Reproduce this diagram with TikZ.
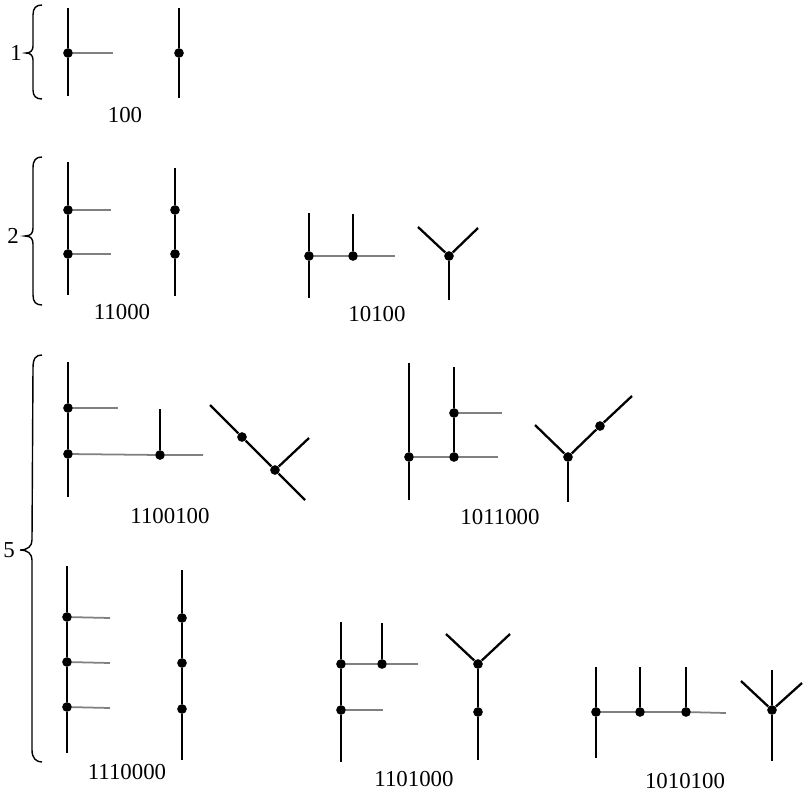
\documentclass[tikz,border=0pt]{standalone}
\usepackage{fontspec}
\setmainfont{Liberation Serif}
\tikzset{
  stem/.style={line width=1.3pt, black},
  leaf/.style={line width=1pt, black!50},
  vtx/.style={circle, fill=black, inner sep=0pt, minimum size=5.5pt},
  code/.style={font=\fontsize{13}{15}\selectfont, inner sep=1pt},
  grp/.style={line width=0.8pt},
}
\begin{document}
\begin{tikzpicture}[x=0.02cm, y=-0.02cm]
  \useasboundingbox (0,0) rectangle (804,795);

  % group sizes
  \draw[grp] (42,5) .. controls (36,5) and (33,8) .. (33,15) -- (33,46)
    .. controls (33,50) and (31,53) .. (26,53) .. controls (31,53) and (33,56) .. (33,60)
    -- (33,90) .. controls (33,96) and (36,99) .. (42,99);
  \node[code] (n1) at (16,53) {1};
  \draw[grp] (42,157) .. controls (36,157) and (33,160) .. (33,168) -- (33,228)
    .. controls (33,233) and (31,236) .. (25,236) .. controls (31,236) and (33,239) .. (33,244)
    -- (33,295) .. controls (33,302) and (36,305) .. (42,305);
  \node[code] (n2) at (13,236) {2};
  \draw[grp] (42,355) .. controls (36,355) and (33,358) .. (33,368) -- (32,540)
    .. controls (32,546) and (28,550) .. (20,550) .. controls (28,550) and (32,554) .. (32,560)
    -- (32,750) .. controls (32,758) and (36,762) .. (42,762);
  \node[code] (n5) at (9,550) {5};

  % 100
  \coordinate (p1t) at (68,8); \coordinate (p1b) at (68,96); \coordinate (p1e) at (113,53);
  \node[vtx] (p1) at (68,53) {};
  \draw[stem] (p1t) -- (p1) -- (p1b);
  \draw[leaf] (p1) -- (p1e);
  \coordinate (q1t) at (179,8); \coordinate (q1b) at (179,98);
  \node[vtx] (q1) at (179,53) {};
  \draw[stem] (q1t) -- (q1) -- (q1b);
  \node[code] (c100) at (125,115) {100};

  % 11000
  \coordinate (p2t) at (68,162); \coordinate (p2b) at (68,295);
  \node[vtx] (p2a) at (68,210) {};
  \node[vtx] (p2c) at (68,254) {};
  \coordinate (p2ae) at (111,210); \coordinate (p2ce) at (111,254);
  \draw[stem] (p2t) -- (p2a) -- (p2c) -- (p2b);
  \draw[leaf] (p2a) -- (p2ae);
  \draw[leaf] (p2c) -- (p2ce);
  \coordinate (q2t) at (175,168); \coordinate (q2b) at (175,296);
  \node[vtx] (q2a) at (175,210) {};
  \node[vtx] (q2c) at (175,254) {};
  \draw[stem] (q2t) -- (q2a) -- (q2c) -- (q2b);
  \node[code] (c11000) at (122,312) {11000};

  % 10100
  \coordinate (r2t) at (309,213); \coordinate (r2b) at (309,298);
  \coordinate (r2st) at (353,214); \coordinate (r2e) at (395,256);
  \node[vtx] (r2a) at (309,256) {};
  \node[vtx] (r2c) at (353,256) {};
  \draw[stem] (r2t) -- (r2a) -- (r2b);
  \draw[stem] (r2st) -- (r2c);
  \draw[leaf] (r2a) -- (r2c) -- (r2e);
  \coordinate (y2l) at (418,227); \coordinate (y2r) at (478,228); \coordinate (y2b) at (449,300);
  \node[vtx] (y2) at (449,256) {};
  \draw[stem] (y2l) -- (y2) -- (y2r);
  \draw[stem] (y2) -- (y2b);
  \node[code] (c10100) at (377,314) {10100};

  % 1100100
  \coordinate (p3t) at (68,362); \coordinate (p3b) at (68,497);
  \node[vtx] (p3a) at (68,408) {};
  \node[vtx] (p3c) at (68,454) {};
  \coordinate (p3ae) at (118,408); \coordinate (p3ce) at (203,455);
  \coordinate (p3st) at (160,409);
  \node[vtx] (p3d) at (160,455) {};
  \draw[stem] (p3t) -- (p3a) -- (p3c) -- (p3b);
  \draw[stem] (p3st) -- (p3d);
  \draw[leaf] (p3a) -- (p3ae);
  \draw[leaf] (p3c) -- (p3d) -- (p3ce);
  \coordinate (d3t) at (210,405); \coordinate (d3b) at (305,500); \coordinate (d3r) at (309,438);
  \node[vtx] (d3a) at (242,437) {};
  \node[vtx] (d3c) at (275,470) {};
  \draw[stem] (d3t) -- (d3a) -- (d3c) -- (d3b);
  \draw[stem] (d3c) -- (d3r);
  \node[code] (c1100100) at (170,516) {1100100};

  % 1011000
  \coordinate (r3t) at (409,363); \coordinate (r3b) at (409,500);
  \node[vtx] (r3a) at (409,457) {};
  \coordinate (r3st) at (454,367);
  \node[vtx] (r3c) at (454,413) {};
  \node[vtx] (r3d) at (454,457) {};
  \coordinate (r3ce) at (502,413); \coordinate (r3de) at (498,457);
  \draw[stem] (r3t) -- (r3a) -- (r3b);
  \draw[stem] (r3st) -- (r3c) -- (r3d);
  \draw[leaf] (r3a) -- (r3d) -- (r3de);
  \draw[leaf] (r3c) -- (r3ce);
  \coordinate (y3l) at (535,425); \coordinate (y3r) at (632,396); \coordinate (y3b) at (568,502);
  \node[vtx] (y3) at (568,457) {};
  \node[vtx] (y3m) at (600,426) {};
  \draw[stem] (y3l) -- (y3) -- (y3m) -- (y3r);
  \draw[stem] (y3) -- (y3b);
  \node[code] (c1011000) at (500,517) {1011000};

  % 1110000
  \coordinate (p4t) at (67,566); \coordinate (p4b) at (67,753);
  \node[vtx] (p4a) at (67,617) {};
  \node[vtx] (p4c) at (67,662) {};
  \node[vtx] (p4d) at (67,707) {};
  \coordinate (p4ae) at (110,618); \coordinate (p4ce) at (110,663); \coordinate (p4de) at (110,708);
  \draw[stem] (p4t) -- (p4a) -- (p4c) -- (p4d) -- (p4b);
  \draw[leaf] (p4a) -- (p4ae);
  \draw[leaf] (p4c) -- (p4ce);
  \draw[leaf] (p4d) -- (p4de);
  \coordinate (q4t) at (182,570); \coordinate (q4b) at (182,760);
  \node[vtx] (q4a) at (182,618) {};
  \node[vtx] (q4c) at (182,663) {};
  \node[vtx] (q4d) at (182,709) {};
  \draw[stem] (q4t) -- (q4a) -- (q4c) -- (q4d) -- (q4b);
  \node[code] (c1110000) at (127,772) {1110000};

  % 1101000
  \coordinate (r4t) at (341,622); \coordinate (r4b) at (341,762);
  \node[vtx] (r4a) at (341,664) {};
  \node[vtx] (r4c) at (341,710) {};
  \coordinate (r4st) at (382,623);
  \node[vtx] (r4d) at (382,664) {};
  \coordinate (r4de) at (418,664); \coordinate (r4ce) at (383,710);
  \draw[stem] (r4t) -- (r4a) -- (r4c) -- (r4b);
  \draw[stem] (r4st) -- (r4d);
  \draw[leaf] (r4a) -- (r4d) -- (r4de);
  \draw[leaf] (r4c) -- (r4ce);
  \coordinate (y4l) at (446,634); \coordinate (y4r) at (510,634); \coordinate (y4b) at (478,760);
  \node[vtx] (y4) at (478,664) {};
  \node[vtx] (y4m) at (478,712) {};
  \draw[stem] (y4l) -- (y4) -- (y4r);
  \draw[stem] (y4) -- (y4m) -- (y4b);
  \node[code] (c1101000) at (414,779) {1101000};

  % 1010100
  \coordinate (s4t) at (596,667); \coordinate (s4b) at (596,758);
  \node[vtx] (s4a) at (596,712) {};
  \coordinate (s4ut) at (640,667); \coordinate (s4vt) at (686,667);
  \node[vtx] (s4c) at (640,712) {};
  \node[vtx] (s4d) at (686,712) {};
  \coordinate (s4e) at (726,713);
  \draw[stem] (s4t) -- (s4a) -- (s4b);
  \draw[stem] (s4ut) -- (s4c);
  \draw[stem] (s4vt) -- (s4d);
  \draw[leaf] (s4a) -- (s4c) -- (s4d) -- (s4e);
  \coordinate (y5l) at (741,681); \coordinate (y5r) at (802,683);
  \coordinate (y5t) at (772,670); \coordinate (y5b) at (772,761);
  \node[vtx] (y5) at (772,710) {};
  \draw[stem] (y5l) -- (y5) -- (y5r);
  \draw[stem] (y5t) -- (y5) -- (y5b);
  \node[code] (c1010100) at (685,781) {1010100};
\end{tikzpicture}
\end{document}
